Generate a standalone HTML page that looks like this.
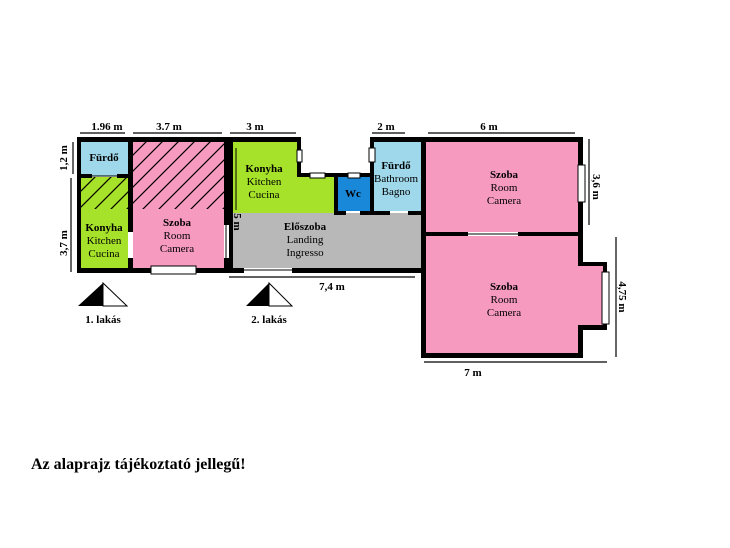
<!DOCTYPE html>
<html><head><meta charset="utf-8"><style>
html,body{margin:0;padding:0;background:#fff;width:730px;height:548px;overflow:hidden}
svg text{font-family:"Liberation Serif",serif;fill:#000}
</style></head><body>
<svg width="730" height="548" viewBox="0 0 730 548" xmlns="http://www.w3.org/2000/svg">
<defs>
<pattern id="hp" patternUnits="userSpaceOnUse" width="16" height="16">
<path d="M-4,20 L20,-4 M-4,4 L4,-4 M12,20 L20,12" stroke="#000" stroke-width="1.2"/>
</pattern>
</defs>
<rect x="81" y="142" width="47" height="34" fill="#9fd8ea"/>
<rect x="81" y="177" width="47" height="32" fill="#a6e22a"/>
<rect x="81" y="177" width="47" height="32" fill="url(#hp)"/>
<rect x="81" y="209" width="47" height="59" fill="#a6e22a"/>
<rect x="133" y="142" width="91" height="67" fill="#f79ac0"/>
<rect x="133" y="142" width="91" height="67" fill="url(#hp)"/>
<rect x="133" y="209" width="91" height="59" fill="#f79ac0"/>
<rect x="233" y="142" width="64" height="71" fill="#a6e22a"/>
<rect x="297" y="177" width="38" height="36" fill="#a6e22a"/>
<rect x="338" y="177" width="32" height="34" fill="#1a88d8"/>
<rect x="374" y="142" width="47" height="69" fill="#9fd8ea"/>
<rect x="233" y="213" width="188" height="55" fill="#b8b8b8"/>
<rect x="426" y="142" width="152" height="90" fill="#f79ac0"/>
<rect x="426" y="236" width="152" height="117" fill="#f79ac0"/>
<rect x="578" y="266" width="25" height="59" fill="#f79ac0"/>
<g fill="#000">
<rect x="77" y="137" width="152" height="5"/>
<rect x="77" y="137" width="4" height="136"/>
<rect x="77" y="268" width="152" height="5"/>
<rect x="81" y="174" width="11" height="4"/><rect x="117" y="174" width="11" height="4"/>
<rect x="128" y="142" width="5" height="90"/><rect x="128" y="258" width="5" height="10"/>
<rect x="224" y="137" width="5" height="88"/><rect x="224" y="258" width="5" height="15"/>
<rect x="229" y="137" width="72" height="5"/>
<rect x="229" y="137" width="4" height="136"/>
<rect x="297" y="137" width="4" height="40"/>
<rect x="297" y="173" width="77" height="4"/>
<rect x="334" y="177" width="4" height="36"/>
<rect x="334" y="211" width="12" height="4"/><rect x="360" y="211" width="30" height="4"/><rect x="408" y="211" width="18" height="4"/>
<rect x="370" y="137" width="213" height="5"/>
<rect x="370" y="137" width="4" height="78"/>
<rect x="421" y="137" width="5" height="221"/>
<rect x="229" y="268" width="15" height="5"/><rect x="292" y="268" width="134" height="5"/>
<rect x="578" y="137" width="5" height="99"/>
<rect x="421" y="232" width="47" height="4"/><rect x="518" y="232" width="65" height="4"/>
<rect x="578" y="236" width="5" height="30"/>
<rect x="578" y="262" width="29" height="4"/>
<rect x="603" y="262" width="4" height="68"/>
<rect x="578" y="325" width="29" height="5"/>
<rect x="578" y="325" width="5" height="33"/>
<rect x="421" y="353" width="162" height="5"/>
</g>
<g stroke="#000" stroke-width="1">
<line x1="92" y1="176" x2="117" y2="176"/>
<line x1="226" y1="225" x2="226" y2="258"/>
<line x1="244" y1="270" x2="292" y2="270"/>
<line x1="468" y1="234" x2="518" y2="234"/>
<line x1="236" y1="148" x2="236" y2="210"/>
</g>
<g fill="#fff" stroke="#000" stroke-width="1">
<rect x="151" y="266" width="45" height="8"/>
<rect x="297" y="150" width="5" height="12"/>
<rect x="310" y="173" width="15" height="5"/>
<rect x="348" y="173" width="12" height="5"/>
<rect x="369" y="148" width="6" height="14"/>
<rect x="578" y="165" width="7" height="37"/>
<rect x="602" y="272" width="7" height="52"/>
</g>
<g stroke="#000" stroke-width="1.2">
<line x1="80" y1="133" x2="125" y2="133"/>
<line x1="133" y1="133" x2="222" y2="133"/>
<line x1="230" y1="133" x2="296" y2="133"/>
<line x1="372" y1="133" x2="405" y2="133"/>
<line x1="428" y1="133" x2="575" y2="133"/>
<line x1="73" y1="142" x2="73" y2="174"/>
<line x1="71" y1="178" x2="71" y2="272"/>
<line x1="589" y1="139" x2="589" y2="225"/>
<line x1="616" y1="237" x2="616" y2="357"/>
<line x1="424" y1="362" x2="607" y2="362"/>
<line x1="229" y1="277" x2="415" y2="277"/>
</g>
<polygon points="78,306 103,283 103,306" fill="#000"/>
<polygon points="103,283 127,306 103,306" fill="#fff" stroke="#000" stroke-width="1"/>
<polygon points="246,306 269,283 269,306" fill="#000"/>
<polygon points="269,283 292,306 269,306" fill="#fff" stroke="#000" stroke-width="1"/>
<g font-size="11" text-anchor="middle">
<text x="107" y="130" font-weight="bold">1.96 m</text>
<text x="169" y="130" font-weight="bold">3.7 m</text>
<text x="255" y="130" font-weight="bold">3 m</text>
<text x="386" y="130" font-weight="bold">2 m</text>
<text x="489" y="130" font-weight="bold">6 m</text>
<text x="332" y="290" font-weight="bold">7,4 m</text>
<text x="473" y="376" font-weight="bold">7 m</text>
<text x="103" y="323" font-weight="bold">1. lakás</text>
<text x="269" y="323" font-weight="bold">2. lakás</text>
<text transform="translate(67,158) rotate(-90)" font-weight="bold">1,2 m</text>
<text transform="translate(67,243) rotate(-90)" font-weight="bold">3,7 m</text>
<text transform="translate(593,187) rotate(90)" font-weight="bold">3,6 m</text>
<text transform="translate(619,297) rotate(90)" font-weight="bold">4,75 m</text>
<text transform="translate(234,222) rotate(90)" font-weight="bold">5 m</text>
<text x="104" y="161" font-weight="bold">Fürdő</text>
<text x="104" y="231" font-weight="bold">Konyha</text>
<text x="104" y="244">Kitchen</text>
<text x="104" y="257">Cucina</text>
<text x="177" y="226" font-weight="bold">Szoba</text>
<text x="177" y="239">Room</text>
<text x="177" y="252">Camera</text>
<text x="264" y="172" font-weight="bold">Konyha</text>
<text x="264" y="185">Kitchen</text>
<text x="264" y="198">Cucina</text>
<text x="353" y="197" font-weight="bold">Wc</text>
<text x="396" y="169" font-weight="bold">Fürdő</text>
<text x="396" y="182">Bathroom</text>
<text x="396" y="195">Bagno</text>
<text x="305" y="230" font-weight="bold">Előszoba</text>
<text x="305" y="243">Landing</text>
<text x="305" y="256">Ingresso</text>
<text x="504" y="178" font-weight="bold">Szoba</text>
<text x="504" y="191">Room</text>
<text x="504" y="204">Camera</text>
<text x="504" y="290" font-weight="bold">Szoba</text>
<text x="504" y="303">Room</text>
<text x="504" y="316">Camera</text>
</g>
<text x="31" y="469" font-size="16" font-weight="bold">Az alaprajz tájékoztató jellegű!</text>
</svg>
</body></html>
